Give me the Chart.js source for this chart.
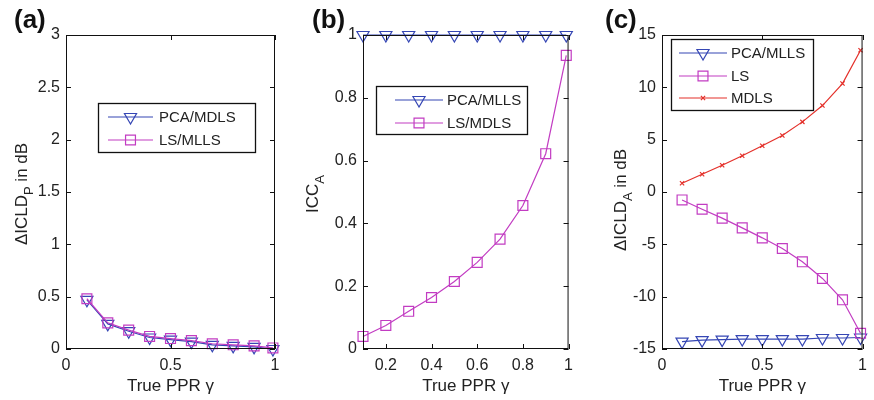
<!DOCTYPE html>
<html>
<head>
<meta charset="utf-8">
<script src="https://cdn.jsdelivr.net/npm/chart.js@4.4.0/dist/chart.umd.min.js"></script>
<style>
  body { margin: 0; background: #fff; }
  #wrap { position: relative; width: 874px; height: 400px; }
  canvas { position: absolute; top: 0; }
</style>
</head>
<body>
<div id="wrap">
  <canvas id="pa" width="290" height="400" style="left:0"></canvas>
  <canvas id="pb" width="290" height="400" style="left:290px"></canvas>
  <canvas id="pc" width="294" height="400" style="left:580px"></canvas>
</div>
<script>
// true PPR gamma (same for every panel)
const gamma = [0.1, 0.2, 0.3, 0.4, 0.5, 0.6, 0.7, 0.8, 0.9, 0.99];

// (a) delta ICLD_P in dB
const icldP_pcaMdls = [0.47, 0.24, 0.17, 0.11, 0.09, 0.07, 0.04, 0.03, 0.02, 0.00];
const icldP_lsMlls  = [0.48, 0.25, 0.18, 0.12, 0.10, 0.08, 0.05, 0.04, 0.03, 0.01];

// (b) ICC_A
const icc_pcaMlls = [1, 1, 1, 1, 1, 1, 1, 1, 1, 1];
const icc_lsMdls  = [0.04, 0.075, 0.12, 0.164, 0.215, 0.276, 0.35, 0.457, 0.622, 0.935];

// (c) delta ICLD_A in dB
const icldA_pcaMlls = [-14.3, -14.15, -14.1, -14.05, -14.05, -14.05, -14.05, -13.95, -13.95, -13.9];
const icldA_ls      = [-0.76, -1.65, -2.5, -3.43, -4.38, -5.4, -6.67, -8.26, -10.3, -13.5];
const icldA_mdls    = [0.83, 1.7, 2.55, 3.46, 4.42, 5.4, 6.7, 8.26, 10.36, 13.54];

// tick labels
const xTicksA = [0, 0.5, 1];
const xTicksB = [0.2, 0.4, 0.6, 0.8, 1];
const xTicksC = [0, 0.5, 1];
const yTicksA = [0, 0.5, 1, 1.5, 2, 2.5, 3];
const yTicksB = [0, 0.2, 0.4, 0.6, 0.8, 1];
const yTicksC = [-15, -10, -5, 0, 5, 10, 15];

const BLUE = '#3546b4';
const MAGENTA = '#c23cc2';
const RED = '#e4302a';
const FONT = '"Liberation Sans", Arial, Helvetica, sans-serif';
const INK = '#222';

const pts = ys => ys.map((y, i) => ({x: gamma[i], y}));

const triangle = (label, ys) => ({
  label, data: pts(ys), borderColor: BLUE, backgroundColor: 'rgba(0,0,0,0)',
  borderWidth: 1.2, pointStyle: 'triangle', rotation: 180, pointRadius: 7,
  pointBorderWidth: 1.2, clip: false, order: 1
});
const square = (label, ys) => ({
  label, data: pts(ys), borderColor: MAGENTA, backgroundColor: 'rgba(0,0,0,0)',
  borderWidth: 1.2, pointStyle: 'rect', pointRadius: 7,
  pointBorderWidth: 1.2, clip: false, order: 0
});
const cross = (label, ys) => ({
  label, data: pts(ys), borderColor: RED, backgroundColor: 'rgba(0,0,0,0)',
  borderWidth: 1.2, pointStyle: 'crossRot', pointRadius: 3,
  pointBorderWidth: 1.2, clip: false, order: 0
});

// box, inward ticks, y title with subscript, panel letter, legend
const panelPlugin = {
  id: 'panel',
  afterDraw(chart, args, opts) {
    const ctx = chart.ctx;
    const {left, right, top, bottom} = chart.chartArea;
    ctx.save();
    ctx.strokeStyle = '#111';
    ctx.lineWidth = 1;
    ctx.strokeRect(left + 0.5, top + 0.5, right - left - 1, bottom - top - 1);
    const tl = 5;
    ctx.beginPath();
    chart.scales.x.ticks.forEach(t => {
      const px = Math.round(chart.scales.x.getPixelForValue(t.value)) + 0.5;
      ctx.moveTo(px, bottom); ctx.lineTo(px, bottom - tl);
      ctx.moveTo(px, top); ctx.lineTo(px, top + tl);
    });
    chart.scales.y.ticks.forEach(t => {
      const py = Math.round(chart.scales.y.getPixelForValue(t.value)) + 0.5;
      ctx.moveTo(left, py); ctx.lineTo(left + tl, py);
      ctx.moveTo(right, py); ctx.lineTo(right - tl, py);
    });
    ctx.stroke();

    // panel letter
    ctx.fillStyle = '#111';
    ctx.font = 'bold 26px ' + FONT;
    ctx.textBaseline = 'alphabetic';
    ctx.textAlign = 'left';
    ctx.fillText(opts.letter, opts.letterX, 28);

    // rotated y title
    const t = opts.yTitle;
    ctx.save();
    ctx.translate(t.x, t.y);
    ctx.rotate(-Math.PI / 2);
    const big = '17px ' + FONT, small = '13px ' + FONT;
    ctx.font = big; const w1 = ctx.measureText(t.main).width;
    const w3 = ctx.measureText(t.rest).width;
    ctx.font = small; const w2 = ctx.measureText(t.sub).width;
    let cx = -(w1 + w2 + w3) / 2;
    ctx.fillStyle = INK;
    ctx.font = big; ctx.fillText(t.main, cx, 0); cx += w1;
    ctx.font = small; ctx.fillText(t.sub, cx, 6); cx += w2;
    ctx.font = big; ctx.fillText(t.rest, cx, 0);
    ctx.restore();

    // legend
    const L = opts.legend;
    ctx.fillStyle = '#fff';
    ctx.fillRect(L.x, L.y, L.w, L.h);
    ctx.strokeStyle = '#111';
    ctx.lineWidth = 1.3;
    ctx.strokeRect(L.x + 0.5, L.y + 0.5, L.w, L.h);
    chart.data.datasets.forEach((ds, i) => {
      const ry = L.rows[i];
      ctx.strokeStyle = ds.borderColor;
      ctx.lineWidth = 1.2;
      ctx.beginPath();
      ctx.moveTo(L.x0, ry); ctx.lineTo(L.x1, ry);
      ctx.stroke();
      ctx.fillStyle = 'rgba(0,0,0,0)';
      Chart.helpers.drawPoint(ctx, {
        pointStyle: ds.pointStyle, rotation: ds.rotation || 0,
        radius: ds.pointRadius, borderWidth: 1.2
      }, (L.x0 + L.x1) / 2, ry);
      ctx.fillStyle = INK;
      ctx.font = '15px ' + FONT;
      ctx.textBaseline = 'middle';
      ctx.fillText(ds.label, L.tx, ry + 1);
    });
    ctx.restore();
  }
};

function makePanel(id, cfg) {
  new Chart(document.getElementById(id), {
    type: 'line',
    data: {datasets: cfg.datasets},
    plugins: [panelPlugin],
    options: {
      responsive: false,
      animation: false,
      layout: {padding: {left: 0, right: cfg.padRight, top: 35, bottom: 0}},
      elements: {line: {tension: 0}},
      scales: {
        x: {
          type: 'linear', min: cfg.xMin, max: 1,
          afterBuildTicks: s => { s.ticks = cfg.xTicks.map(v => ({value: v})); },
          afterFit: s => { s.height = 51; },
          grid: {display: false, drawTicks: false, tickLength: 0},
          border: {display: false},
          ticks: {color: INK, font: {family: FONT, size: 16}, padding: 7, maxRotation: 0,
                  callback: v => String(v)},
          title: {display: true, text: 'True PPR γ', color: INK,
                  font: {family: FONT, size: 17}, padding: {top: 2, bottom: 3}}
        },
        y: {
          type: 'linear', min: cfg.yMin, max: cfg.yMax,
          afterBuildTicks: s => { s.ticks = cfg.yTicks.map(v => ({value: v})); },
          afterFit: s => { s.width = cfg.left; },
          grid: {display: false, drawTicks: false, tickLength: 0},
          border: {display: false},
          ticks: {color: INK, font: {family: FONT, size: 16}, padding: 6,
                  callback: v => String(v)}
        }
      },
      plugins: {
        legend: {display: false},
        tooltip: {enabled: false},
        panel: cfg.panel
      }
    }
  });
}

makePanel('pa', {
  left: 66, padRight: 15, xMin: 0, yMin: 0, yMax: 3,
  xTicks: xTicksA, yTicks: yTicksA,
  datasets: [triangle('PCA/MDLS', icldP_pcaMdls), square('LS/MLLS', icldP_lsMlls)],
  panel: {
    letter: '(a)', letterX: 14,
    yTitle: {main: 'ΔICLD', sub: 'P', rest: ' in dB', x: 27, y: 194},
    legend: {x: 98, y: 103, w: 157, h: 49, rows: [117, 140], x0: 108, x1: 153, tx: 159}
  }
});

makePanel('pb', {
  left: 73, padRight: 7, xMin: 0.1, yMin: 0, yMax: 1,
  xTicks: xTicksB, yTicks: yTicksB,
  datasets: [triangle('PCA/MLLS', icc_pcaMlls), square('LS/MDLS', icc_lsMdls)],
  panel: {
    letter: '(b)', letterX: 22,
    yTitle: {main: 'ICC', sub: 'A', rest: '', x: 28, y: 194},
    legend: {x: 86, y: 86, w: 151, h: 48, rows: [100, 123], x0: 105, x1: 153, tx: 157}
  }
});

makePanel('pc', {
  left: 82, padRight: 5, xMin: 0, yMin: -15, yMax: 15,
  xTicks: xTicksC, yTicks: yTicksC,
  datasets: [triangle('PCA/MLLS', icldA_pcaMlls), square('LS', icldA_ls), cross('MDLS', icldA_mdls)],
  panel: {
    letter: '(c)', letterX: 25,
    yTitle: {main: 'ΔICLD', sub: 'A', rest: ' in dB', x: 46, y: 200},
    legend: {x: 91, y: 39, w: 142, h: 71, rows: [53, 76, 98], x0: 99, x1: 147, tx: 151}
  }
});
</script>
</body>
</html>
